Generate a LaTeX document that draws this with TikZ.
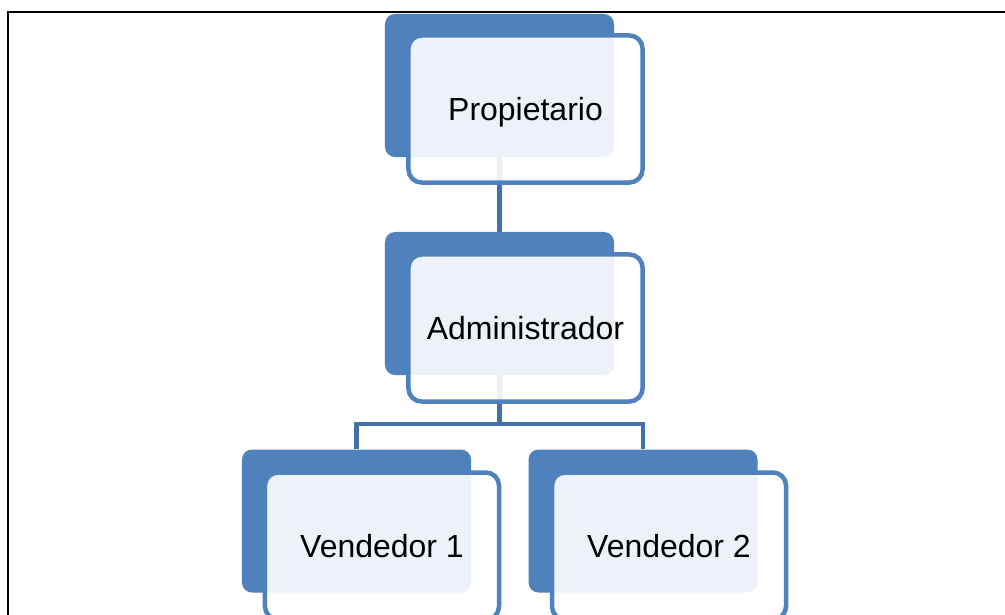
\documentclass[tikz,border=0pt]{standalone}
\usepackage{fontspec}
\setmainfont{Liberation Sans}
\usepackage{xcolor}
\definecolor{boxblue}{RGB}{79,129,189}
\definecolor{lineblue}{RGB}{66,112,168}

\begin{document}
\begin{tikzpicture}[x=0.03cm, y=-0.03cm]
        \useasboundingbox (0,0) rectangle (1005,615);
        \clip (0,0) rectangle (1005,615);
        \draw[line width=0.045cm] (8,640) -- (8,12) -- (1030,12);

        \begin{scope}[every node/.style = {rectangle, rounded corners=0.3cm, fill=boxblue,
                        minimum width=6.87cm, minimum height=4.29cm, inner sep=0pt}]
            \node (Pb)  at (499.5, 85.5)  {};
            \node (Ab)  at (499.5, 303.5) {};
            \node (V1b) at (356.5, 521)   {};
            \node (V2b) at (643, 521)     {};
        \end{scope}

        \coordinate (split) at (499.5, 424);

        \begin{scope}[every path/.style={draw=lineblue, line width=0.135cm}]
            \path (Pb) -- (Ab);
            \path (Ab) -- (split) -| (V1b);
            \path (split) -| (V2b);
        \end{scope}

        \begin{scope}[every node/.style = {rectangle, rounded corners=0.39cm, draw=boxblue,
                        line width=0.135cm, fill=white, fill opacity=0.9, text opacity=1,
                        minimum width=7.02cm, minimum height=4.41cm,
                        font=\fontsize{27.3}{32}\selectfont, text height=19.5pt, text depth=0pt}]
            \node (P)  at (525.5, 109) {Propietario};
            \node (A)  at (525.5, 328) {Administrador};
            \node (V1) at (382, 546)   {Vendedor 1};
            \node (V2) at (669, 546)   {Vendedor 2};
        \end{scope}
\end{tikzpicture}
\end{document}
